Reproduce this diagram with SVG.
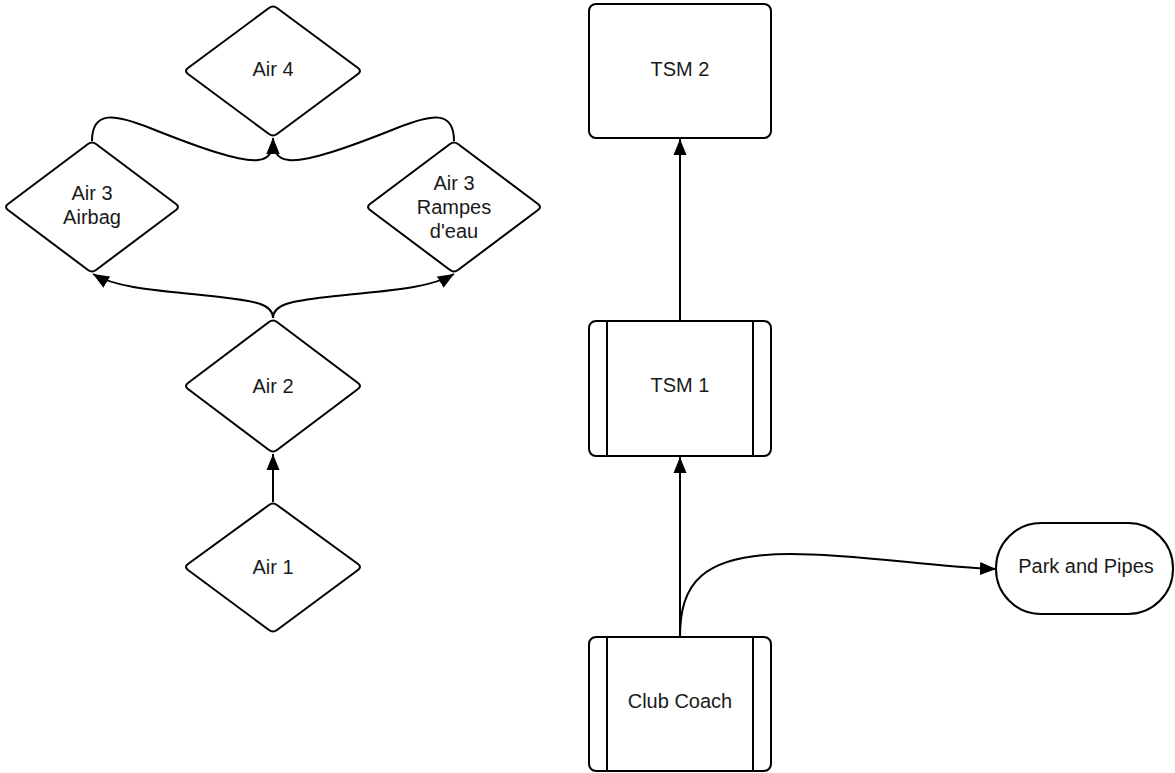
<svg xmlns="http://www.w3.org/2000/svg" width="1175" height="773" viewBox="0 0 1175 773">
<style>
.shape{fill:#fff;stroke:#000;stroke-width:2;stroke-linejoin:round}
.inner{fill:none;stroke:#000;stroke-width:2}
.lbl{font-family:"Liberation Sans",Arial,sans-serif;font-size:20px;fill:#1a1a1a;text-anchor:middle}
.edge{fill:none;stroke:#000;stroke-width:2}
</style>
<defs>
<marker id="arr" markerUnits="userSpaceOnUse" markerWidth="17" markerHeight="14" viewBox="0 0 17 14" refX="16" refY="7" orient="auto">
<path d="M0,0.5 L16,7 L0,13.5 z" fill="#000"/>
</marker>
</defs>
<rect width="1175" height="773" fill="#fff"/>
<g id="connectors">
<path class="edge" d="M273,502 L273,454" marker-end="url(#arr)"/>
<path class="edge" d="M273,318 C273,304 255,301 220,297 C170,291 120,290 93,274" marker-end="url(#arr)"/>
<path class="edge" d="M273,318 C273,304 292,301 327,297 C377,291 427,290 454,274" marker-end="url(#arr)"/>
<path class="edge" d="M92,141 C92,110 115,114 150,128 C200,148 240,162 258,160 C268,159 273,154 273,138" marker-end="url(#arr)"/>
<path class="edge" d="M454,141 C454,110 432,114 397,128 C347,148 307,162 289,160 C279,159 273,154 273,138" marker-end="url(#arr)"/>
<path class="edge" d="M680,321 L680,139" marker-end="url(#arr)"/>
<path class="edge" d="M680,637 L680,457" marker-end="url(#arr)"/>
<path class="edge" d="M680,637 C680,585 700,554 790,554 C860,554 930,567 996,569" marker-end="url(#arr)"/>
</g>
<g id="air4">
<path class="shape" d="M277,8 L358,68 Q362,71 358,74 L277,134 Q273,137 269,134 L188,74 Q184,71 188,68 L269,8 Q273,5 277,8 Z"/>
<text class="lbl" x="273" y="76">Air 4</text>
</g>
<g id="air3-airbag">
<path class="shape" d="M96,144 L176,204 Q180,207 176,210 L96,270 Q92,273 88,270 L8,210 Q4,207 8,204 L88,144 Q92,141 96,144 Z"/>
<text class="lbl" x="92" y="200">Air 3</text>
<text class="lbl" x="92" y="224">Airbag</text>
</g>
<g id="air3-rampes">
<path class="shape" d="M458,144 L538,204 Q542,207 538,210 L458,270 Q454,273 450,270 L370,210 Q366,207 370,204 L450,144 Q454,141 458,144 Z"/>
<text class="lbl" x="454" y="190">Air 3</text>
<text class="lbl" x="454" y="214">Rampes</text>
<text class="lbl" x="454" y="238">d'eau</text>
</g>
<g id="air2">
<path class="shape" d="M277,322 L358,383 Q362,386 358,389 L277,450 Q273,453 269,450 L188,389 Q184,386 188,383 L269,322 Q273,319 277,322 Z"/>
<text class="lbl" x="273" y="393">Air 2</text>
</g>
<g id="air1">
<path class="shape" d="M277,505 L358,564 Q362,567 358,570 L277,630 Q273,633 269,630 L188,570 Q184,567 188,564 L269,505 Q273,502 277,505 Z"/>
<text class="lbl" x="273" y="574">Air 1</text>
</g>
<g id="tsm2">
<rect class="shape" x="589" y="4" width="182" height="134" rx="7"/>
<text class="lbl" x="680" y="76">TSM 2</text>
</g>
<g id="tsm1">
<rect class="shape" x="589" y="321" width="182" height="135" rx="7"/>
<line class="inner" x1="607" y1="321" x2="607" y2="456"/>
<line class="inner" x1="753" y1="321" x2="753" y2="456"/>
<text class="lbl" x="680" y="392">TSM 1</text>
</g>
<g id="club-coach">
<rect class="shape" x="589" y="637" width="182" height="134" rx="7"/>
<line class="inner" x1="607" y1="637" x2="607" y2="771"/>
<line class="inner" x1="753" y1="637" x2="753" y2="771"/>
<text class="lbl" x="680" y="708">Club Coach</text>
</g>
<g id="park-and-pipes">
<rect class="shape" x="996" y="523" width="177" height="91" rx="45" ry="45"/>
<text class="lbl" x="1086" y="573">Park and Pipes</text>
</g>
</svg>
